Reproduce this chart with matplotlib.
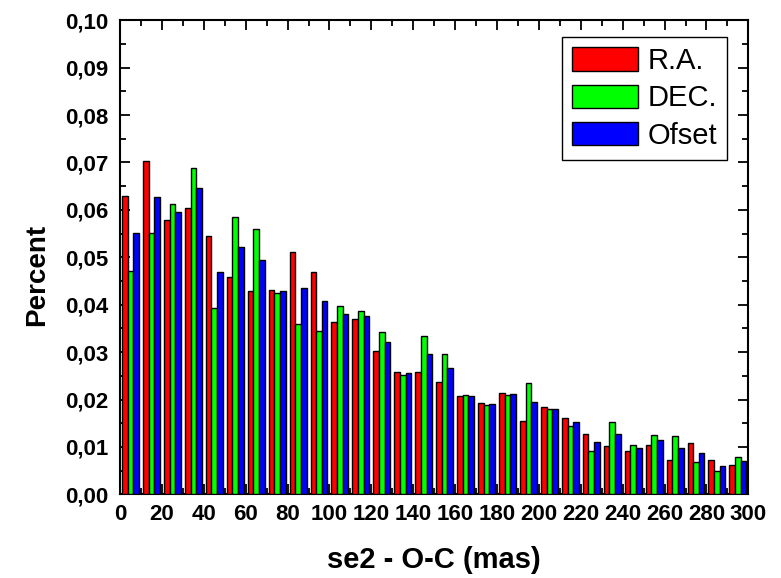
import numpy as np
import matplotlib
matplotlib.use("Agg")
import matplotlib.pyplot as plt
from matplotlib.ticker import MultipleLocator, FuncFormatter

# histogram bins: 0-300 mas in steps of 10
bin_left = np.arange(0, 300, 10)

ra = [0.0630, 0.0704, 0.0578, 0.0604, 0.0544, 0.0459, 0.0429, 0.0432, 0.0511, 0.0468,
      0.0363, 0.0369, 0.0303, 0.0259, 0.0257, 0.0237, 0.0207, 0.0193, 0.0213, 0.0154,
      0.0184, 0.0160, 0.0127, 0.0101, 0.0091, 0.0105, 0.0072, 0.0108, 0.0072, 0.0061]
dec = [0.0472, 0.0552, 0.0613, 0.0689, 0.0392, 0.0586, 0.0559, 0.0425, 0.0359, 0.0345,
       0.0398, 0.0386, 0.0342, 0.0252, 0.0335, 0.0295, 0.0209, 0.0188, 0.0209, 0.0235,
       0.0179, 0.0145, 0.0092, 0.0152, 0.0105, 0.0125, 0.0122, 0.0069, 0.0049, 0.0078]
ofset = [0.0552, 0.0628, 0.0596, 0.0646, 0.0469, 0.0522, 0.0494, 0.0429, 0.0435, 0.0407,
         0.0380, 0.0377, 0.0322, 0.0256, 0.0296, 0.0267, 0.0208, 0.0191, 0.0211, 0.0195,
         0.0181, 0.0153, 0.0110, 0.0127, 0.0098, 0.0115, 0.0097, 0.0088, 0.0060, 0.0070]

series = [("R.A.", ra, "#ff0000"), ("DEC.", dec, "#00ff00"), ("Ofset", ofset, "#0000ff")]

plt.rcParams["font.family"] = ["Liberation Sans", "DejaVu Sans"]

fig = plt.figure(figsize=(7.81, 5.78), dpi=100)
ax = fig.add_axes([0.1537, 0.1448, 0.8045, 0.8201])

bar_w = 2.7
for k, (name, vals, col) in enumerate(series):
    ax.bar(bin_left + 5 + (k - 1) * bar_w, vals, width=bar_w, color=col,
           edgecolor="black", linewidth=1.0, label=name, zorder=3)

ax.set_xlim(0, 300)
ax.set_ylim(0, 0.10)
ax.xaxis.set_major_locator(MultipleLocator(20))
ax.xaxis.set_minor_locator(MultipleLocator(10))
ax.yaxis.set_major_locator(MultipleLocator(0.01))
ax.yaxis.set_minor_locator(MultipleLocator(0.005))
ax.yaxis.set_major_formatter(FuncFormatter(lambda v, p: f"{v:.2f}".replace(".", ",")))

ax.tick_params(which="both", direction="in", top=True, right=True, width=1.3)
ax.tick_params(which="major", length=7)
ax.tick_params(which="minor", length=4)
ax.tick_params(axis="x", which="major", labelsize=16, pad=7)
ax.tick_params(axis="y", which="major", labelsize=16, pad=8.5)
for lab in ax.get_xticklabels() + ax.get_yticklabels():
    lab.set_fontweight("bold")
for sp in ax.spines.values():
    sp.set_linewidth(1.5)

ax.set_xlabel("se2 - O-C (mas)", fontsize=21, fontweight="bold", labelpad=15)
ax.set_ylabel("Percent", fontsize=20, fontweight="bold")
ax.yaxis.set_label_coords(-0.111, 0.463)

leg = ax.legend(loc="upper right", bbox_to_anchor=(0.966, 0.965), borderaxespad=0,
                fontsize=21, handlelength=2.28, handleheight=0.86, handletextpad=0.3,
                labelspacing=0.32, borderpad=0.35, fancybox=False,
                edgecolor="black", framealpha=1)
leg.get_frame().set_linewidth(1.0)

fig.savefig("out.png", dpi=100)
